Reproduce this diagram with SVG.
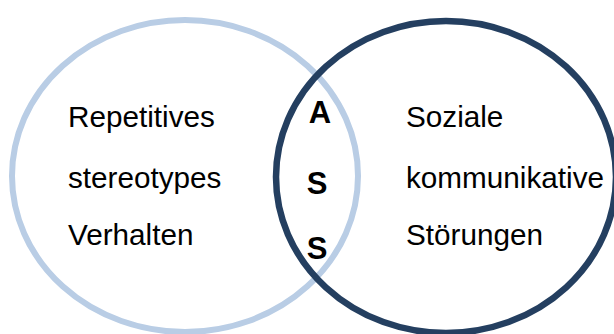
<svg xmlns="http://www.w3.org/2000/svg" width="614" height="334" viewBox="0 0 614 334">
<style>
.t{font-family:"Liberation Sans",Arial,sans-serif;font-size:29.7px;fill:#000}
.b{font-family:"Liberation Sans",Arial,sans-serif;font-size:31px;font-weight:bold;fill:#000;text-anchor:middle}
</style>
<rect width="614" height="334" fill="#fff"/>
<g id="left-set">
<ellipse cx="185" cy="176" rx="173" ry="156" fill="none" stroke="#B9CDE5" stroke-width="6"/>
<text class="t" x="68" y="127">Repetitives</text>
<text class="t" x="68" y="188">stereotypes</text>
<text class="t" x="68" y="245">Verhalten</text>
</g>
<g id="right-set">
<ellipse cx="446" cy="177" rx="170" ry="156" fill="none" stroke="#243F60" stroke-width="6.5"/>
<text class="t" x="406" y="127">Soziale</text>
<text class="t" x="406" y="188">kommunikative</text>
<text class="t" x="406" y="245">Störungen</text>
</g>
<g id="intersection">
<text class="b" x="320" y="123">A</text>
<text class="b" x="317" y="194">S</text>
<text class="b" x="317" y="259">S</text>
</g>
<g id="connectors"/>
</svg>
